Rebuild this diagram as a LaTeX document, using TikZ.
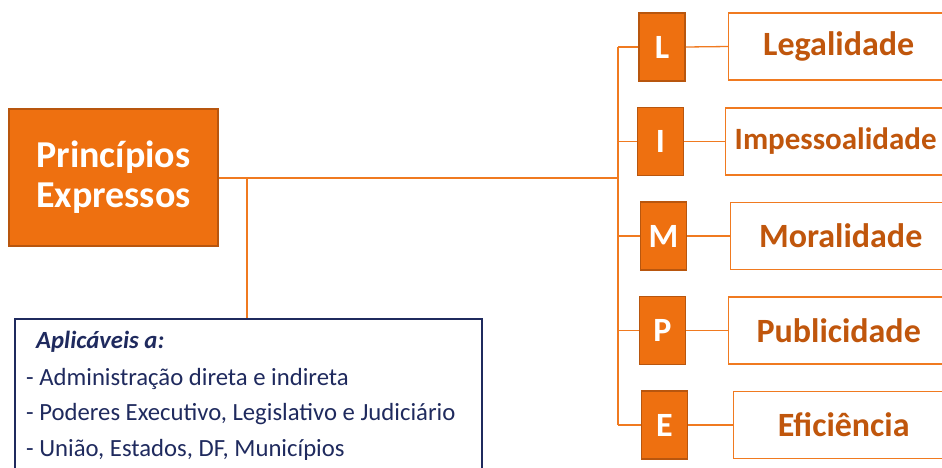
\documentclass[tikz,border=0pt]{standalone}
\usepackage{fontspec}
\setmainfont{Carlito}
\definecolor{orfill}{HTML}{EE7010}
\definecolor{ordark}{HTML}{B8560E}
\definecolor{orline}{HTML}{F07A20}
\definecolor{ortext}{HTML}{C0560C}
\definecolor{navy}{HTML}{1F2A5E}
\begin{document}
\begin{tikzpicture}[x=1pt,y=-1pt,
  mainbox/.style={draw=ordark,line width=1.5pt,fill=orfill,text=white,font=\fontsize{38}{42}\selectfont\bfseries,align=center,inner sep=0pt,minimum width=209pt,minimum height=137pt},
  letterbox/.style={draw=ordark,line width=1.5pt,fill=orfill,text=white,font=\fontsize{34}{38}\selectfont\bfseries,inner sep=0pt,minimum width=46pt,minimum height=68pt},
  labelbox/.style={draw=orline,line width=1.3pt,fill=white,text=ortext,font=\fontsize{34}{38}\selectfont\bfseries,inner sep=0pt,minimum width=220pt,minimum height=67pt,anchor=west},
  conn/.style={draw=orline,line width=1.3pt},
  listbox/.style={draw=navy,line width=1.5pt,fill=white,anchor=north west,inner sep=0pt,minimum width=467pt,minimum height=170pt},
  listtext/.style={text=navy,font=\fontsize{24.7}{28}\selectfont,anchor=base west,inner sep=0pt}
]
\useasboundingbox (0,0) rectangle (942,467);
\begin{scope}
\clip (0,0) rectangle (942,467);
% main box
\node[mainbox] (main) at (113.5,177.5) {\rule{0pt}{0pt}Princípios\\[-2pt]Expressos};
% letter boxes
\node[letterbox] (L) at (662,47) {L};
\node[letterbox] (I) at (660.5,141.5) {I};
\node[letterbox] (M) at (663.5,236) {M};
\node[letterbox] (P) at (662.5,330.5) {P};
\node[letterbox] (E) at (664.5,425) {E};
% label boxes
\node[labelbox] (lL) at (728,46.5) {Legalidade};
\node[labelbox,font=\fontsize{31}{36}\selectfont\bfseries] (lI) at (725,141.5) {Impessoalidade};
\node[labelbox] (lM) at (730,236) {Moralidade};
\node[labelbox] (lP) at (728,330.5) {Publicidade};
\node[labelbox] (lE) at (733,425) {Eficiência};
% spine coordinates
\coordinate (sL) at (618,47);
\coordinate (sI) at (618,141.5);
\coordinate (sMain) at (618,178);
\coordinate (sM) at (618,236);
\coordinate (sP) at (618,330.5);
\coordinate (sE) at (618,425);
\coordinate (drop) at (247,178);
% list box
\node[listbox] (list) at (14,318) {};
\node[listtext,font=\fontsize{24.7}{28}\selectfont\bfseries\itshape] (t0) at (36,348) {Aplicáveis a:};
\node[listtext] (t1) at (26,385) {- Administração direta e indireta};
\node[listtext] (t2) at (26,420) {- Poderes Executivo, Legislativo e Judiciário};
\node[listtext] (t3) at (26,456) {- União, Estados, DF, Municípios};
% connectors
\draw[conn] (main.east |- sMain) -- (sMain);
\draw[conn] (drop) -- (drop |- list.north);
\draw[conn] (sL) -- (sE);
\draw[conn] (sL) -- (L.west);
\draw[conn] (sI) -- (I.west);
\draw[conn] (sM) -- (M.west);
\draw[conn] (sP) -- (P.west);
\draw[conn] (sE) -- (E.west);
\draw[conn] (L.east) -- (lL.west);
\draw[conn] (I.east) -- (lI.west);
\draw[conn] (M.east) -- (lM.west);
\draw[conn] (P.east) -- (lP.west);
\draw[conn] (E.east) -- (lE.west);
\end{scope}
\end{tikzpicture}
\end{document}
